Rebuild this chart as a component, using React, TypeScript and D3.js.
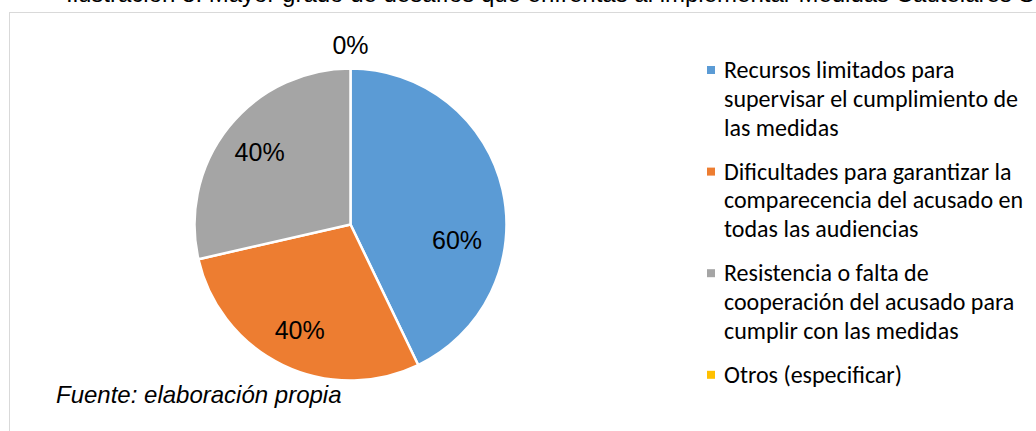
import { useEffect, useRef } from "react";
import * as d3 from "d3";

// Chart data
const categories = [
  "Recursos limitados para supervisar el cumplimiento de las medidas",
  "Dificultades para garantizar la comparecencia del acusado en todas las audiencias",
  "Resistencia o falta de cooperación del acusado para cumplir con las medidas",
  "Otros (especificar)",
];
const values = [60, 40, 40, 0];
const percentLabels = ["60%", "40%", "40%", "0%"];
const legendLines = [
  ["Recursos limitados para", "supervisar el cumplimiento de", "las medidas"],
  ["Dificultades para garantizar la", "comparecencia del acusado en", "todas las audiencias"],
  ["Resistencia o falta de", "cooperación del acusado para", "cumplir con las medidas"],
  ["Otros (especificar)"],
];
const colors = ["#5B9BD5", "#ED7D31", "#A5A5A5", "#FFC000"];

const titleText = "Ilustración 8: Mayor grado de desafíos que enfrentas al implementar Medidas Cautelares Sustitutivas";
const sourceText = "Fuente: elaboración propia";

const width = 1036;
const height = 431;
const cx = 350.5;
const cy = 224.5;
const radius = 156;

// label placement tweaks (radians / radius ratio), like the hand-moved labels in the original
const labelAngleShift = [0.37, 0, 0, 0];
const labelRadius = [0.69, 0.75, 0.745, 1.15];

const legendFont = "Carlito, Lato, 'Noto Sans', sans-serif";

const drawChart = (node: SVGSVGElement) => {
  const svg = d3.select(node);
  svg.selectAll("*").remove();

  // title, mostly cut off at the top
  svg.append("text")
    .attr("x", 66)
    .attr("y", 2)
    .attr("font-family", "Arial, 'Liberation Sans', sans-serif")
    .attr("font-size", 24)
    .attr("fill", "#000")
    .text(titleText);

  // chart area border
  svg.append("rect")
    .attr("x", 9.5)
    .attr("y", 12.5)
    .attr("width", width)
    .attr("height", height)
    .attr("fill", "none")
    .attr("stroke", "#d9d9d9");

  const data = categories.map((c, i) => ({ name: c, value: values[i], label: percentLabels[i], color: colors[i], idx: i }));

  const pie = d3.pie<any>()
    .sort(null)
    .value(d => d.value);

  const arc = d3.arc<any>()
    .innerRadius(0)
    .outerRadius(radius);

  const arcs = pie(data);

  const g = svg.append("g").attr("transform", `translate(${cx},${cy})`);

  g.selectAll("path")
    .data(arcs.filter(d => d.value > 0))
    .join("path")
    .attr("d", arc)
    .attr("fill", d => d.data.color)
    .attr("stroke", "#fff")
    .attr("stroke-width", 2.5)
    .attr("stroke-linejoin", "round");

  // percent labels
  const labelPos = (d: any) => {
    const i = d.data.idx;
    const a = (d.startAngle + d.endAngle) / 2 + labelAngleShift[i];
    const r = radius * labelRadius[i];
    return [Math.sin(a) * r, -Math.cos(a) * r];
  };

  g.selectAll("text.pct")
    .data(arcs)
    .join("text")
    .attr("class", "pct")
    .attr("transform", d => `translate(${labelPos(d)})`)
    .attr("text-anchor", "middle")
    .attr("dy", "0.36em")
    .attr("font-family", "Arial, 'Liberation Sans', sans-serif")
    .attr("font-size", 25)
    .attr("fill", "#000")
    .text(d => d.data.label);

  // legend
  const legendX = 707;
  const lineStep = 28.8;
  const itemGap = 44;
  let y = 78;
  const legend = svg.append("g");
  legendLines.forEach((lines, i) => {
    legend.append("rect")
      .attr("x", legendX)
      .attr("y", y - 12)
      .attr("width", 8)
      .attr("height", 8)
      .attr("fill", colors[i]);
    lines.forEach((line, j) => {
      legend.append("text")
        .attr("x", legendX + 17)
        .attr("y", y + j * lineStep)
        .attr("font-family", legendFont)
        .attr("font-size", 24)
        .attr("fill", "#000")
        .text(line);
    });
    y += (lines.length - 1) * lineStep + itemGap;
  });

  // source note
  svg.append("text")
    .attr("x", 56)
    .attr("y", 403)
    .attr("font-family", "Arial, 'Liberation Sans', sans-serif")
    .attr("font-style", "italic")
    .attr("font-size", 24)
    .attr("fill", "#000")
    .text(sourceText);
};

export default function App() {
  const ref = useRef<SVGSVGElement>(null);
  useEffect(() => {
    if (ref.current) drawChart(ref.current);
  }, []);
  return (
    <svg
      ref={ref}
      width={width}
      height={height}
      style={{ position: "absolute", left: 0, top: 0, background: "#fff" }}
    />
  );
}
